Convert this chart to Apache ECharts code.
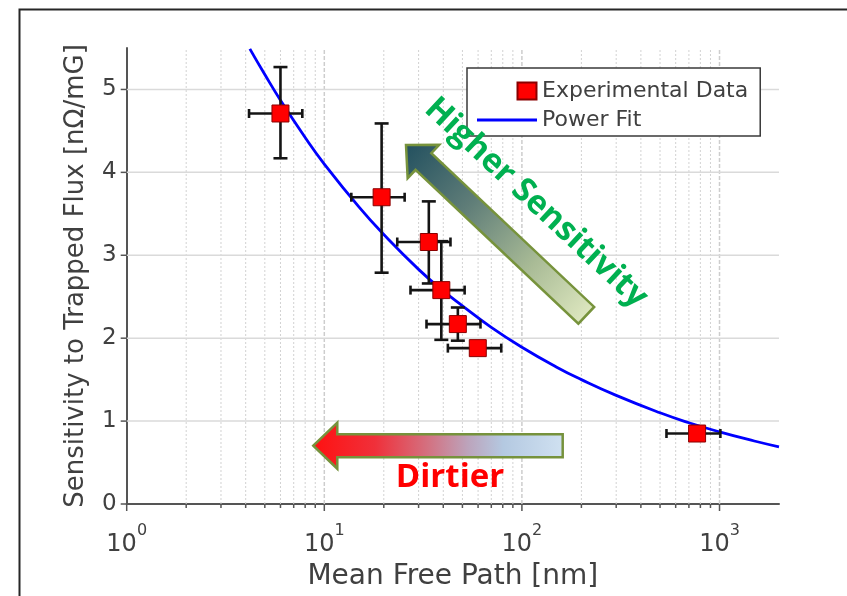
<!DOCTYPE html>
<html>
<head>
<meta charset="utf-8">
<script src="https://cdn.jsdelivr.net/npm/echarts@6/dist/echarts.min.js"></script>
<style>
  html, body { margin: 0; padding: 0; background: #ffffff; }
  #chart { width: 847px; height: 596px; }
</style>
</head>
<body>
<div id="chart"></div>
<script>
// Measured samples: mean free path (nm) vs. sensitivity to trapped flux (nOhm/mG)
const meanFreePath = [6.0, 19.5, 33.8, 39.1, 47.4, 59.8, 770];
const mfpErrLow    = [4.16, 13.7, 23.4, 27.3, 32.9, 42.2, 539];
const mfpErrHigh   = [7.74, 25.5, 43.5, 51.3, 61.7, 78.6, 1010];
const sensitivity  = [4.71, 3.70, 3.16, 2.58, 2.17, 1.88, 0.85];
const sensErrLow   = [4.17, 2.79, 2.66, 1.98, 1.97, 1.88, 0.85];
const sensErrHigh  = [5.27, 4.59, 3.65, 3.17, 2.37, 1.88, 0.85];

// Power-law fit, sampled along the curve
const fitPath        = [4.2, 5, 6, 8, 10, 15, 20, 30, 40, 50, 70, 100, 150, 200, 300, 500, 700, 1000, 1500, 2000];
const fitSensitivity = [5.49, 5.18, 4.87, 4.42, 4.10, 3.58, 3.25, 2.83, 2.57, 2.39, 2.13, 1.89, 1.65, 1.50, 1.31, 1.10, 0.98, 0.87, 0.76, 0.69];

// Axis ticks
const xMajorTicks = [1, 10, 100, 1000];
const xMinorTicks = [2, 3, 4, 5, 6, 7, 8, 9, 20, 30, 40, 50, 60, 70, 80, 90, 200, 300, 400, 500, 600, 700, 800, 900];
const yTicks = [0, 1, 2, 3, 4, 5];
const xRange = [1, 2000];
const yRange = [0, 5.5];

const FONT = '"DejaVu Sans", sans-serif';
const TEXT_COLOR = '#404040';
const AXIS_COLOR = '#555555';

const chart = echarts.init(document.getElementById('chart'), null, { renderer: 'canvas' });

function isDecade(v) {
  const e = Math.log10(v);
  return Math.abs(e - Math.round(e)) < 1e-6;
}

const xGridData = xMajorTicks.map(v => [v, 1]).concat(xMinorTicks.map(v => [v, 0]));
const yGridData = yTicks.map(v => [xRange[0], v]);
const errorData = meanFreePath.map((x, i) => [x, sensitivity[i], mfpErrLow[i], mfpErrHigh[i], sensErrLow[i], sensErrHigh[i]]);

function arrowPoints(len) {
  // arrow pointing to -x, tip at local origin
  const head = 24, headHalf = 23, shaftHalf = 11.5;
  return [[0, 0], [head, -headHalf], [head, -shaftHalf], [len, -shaftHalf],
          [len, shaftHalf], [head, shaftHalf], [head, headHalf]];
}

const option = {
  animation: false,
  backgroundColor: '#ffffff',
  grid: { left: 126.7, right: 68, top: 48, bottom: 89.3, containLabel: false },
  xAxis: {
    type: 'log',
    logBase: 10,
    min: xRange[0],
    max: xRange[1],
    name: 'Mean Free Path [nm]',
    nameLocation: 'middle',
    nameGap: 59,
    nameTextStyle: { fontFamily: FONT, fontSize: 28, color: TEXT_COLOR },
    axisLine: { show: true, onZero: false, lineStyle: { color: AXIS_COLOR, width: 2 } },
    axisTick: { show: false },
    splitLine: { show: false },
    minorTick: { show: false },
    axisLabel: {
      margin: 19,
      formatter: v => isDecade(v) ? '{b|10}{s|' + Math.round(Math.log10(v)) + '}' : '',
      rich: {
        b: { fontFamily: FONT, fontSize: 24, color: TEXT_COLOR, verticalAlign: 'bottom', lineHeight: 34 },
        s: { fontFamily: FONT, fontSize: 16, color: TEXT_COLOR, verticalAlign: 'top', lineHeight: 34 }
      }
    }
  },
  yAxis: {
    type: 'value',
    min: yRange[0],
    max: yRange[1],
    interval: 1,
    name: 'Sensitivity to Trapped Flux [n\u03A9/mG]',
    nameLocation: 'middle',
    nameRotate: 90,
    nameGap: 37,
    nameTextStyle: { fontFamily: FONT, fontSize: 26, color: TEXT_COLOR },
    axisLine: { show: true, onZero: false, lineStyle: { color: AXIS_COLOR, width: 2 } },
    axisTick: { show: false },
    splitLine: { show: false },
    axisLabel: {
      margin: 10,
      fontFamily: FONT, fontSize: 23, color: TEXT_COLOR,
      formatter: v => Number.isInteger(v) ? String(v) : ''
    }
  },
  legend: {
    orient: 'vertical',
    left: 467,
    top: 68,
    itemWidth: 60,
    itemHeight: 17,
    itemGap: 7,
    padding: [12, 12, 5, 9],
    borderColor: '#3a3a3a',
    borderWidth: 1.5,
    backgroundColor: '#ffffff',
    textStyle: { fontFamily: FONT, fontSize: 22, color: TEXT_COLOR, lineHeight: 17 },
    data: [
      { name: 'Experimental Data', icon: 'path://M0,0M60,17M40.5,0L59.5,0L59.5,17L40.5,17Z' },
      { name: 'Power Fit', icon: 'path://M0,0M60,17M0,7L60,7L60,10L0,10Z' }
    ]
  },
  series: [
    {
      name: 'xGrid',
      type: 'custom',
      z: 1,
      silent: true,
      data: xGridData,
      encode: { x: 0 },
      renderItem: (params, api) => {
        const v = api.value(0);
        const major = api.value(1) === 1;
        const p0 = api.coord([v, yRange[0]]);
        const p1 = api.coord([v, yRange[1]]);
        const children = [];
        if (v > xRange[0]) {
          children.push({
            type: 'line',
            shape: { x1: p0[0], y1: p0[1], x2: p1[0], y2: p1[1] },
            style: { stroke: major ? '#cdcdcd' : '#d2d2d2', lineWidth: major ? 1.5 : 1, lineDash: major ? [4, 2] : [2, 2] }
          });
        }
        children.push({
          type: 'line',
          shape: { x1: p0[0], y1: p0[1], x2: p0[0], y2: p0[1] + (major ? 7 : 4) },
          style: { stroke: AXIS_COLOR, lineWidth: 1.5 }
        });
        return { type: 'group', children };
      }
    },
    {
      name: 'yGrid',
      type: 'custom',
      z: 1,
      silent: true,
      data: yGridData,
      encode: { x: 0, y: 1 },
      renderItem: (params, api) => {
        const v = api.value(1);
        const p0 = api.coord([xRange[0], v]);
        const p1 = api.coord([xRange[1], v]);
        const children = [];
        if (v > yRange[0]) {
          children.push({
            type: 'line',
            shape: { x1: p0[0], y1: p0[1], x2: p1[0], y2: p1[1] },
            style: { stroke: '#dadada', lineWidth: 1.5 }
          });
        }
        children.push({
          type: 'line',
          shape: { x1: p0[0] - 6, y1: p0[1], x2: p0[0], y2: p0[1] },
          style: { stroke: AXIS_COLOR, lineWidth: 1.5 }
        });
        return { type: 'group', children };
      }
    },
    {
      name: 'Power Fit',
      type: 'line',
      z: 3,
      smooth: true,
      symbol: 'none',
      clip: true,
      lineStyle: { color: '#0000ff', width: 2.8 },
      itemStyle: { color: '#0000ff' },
      data: fitPath.map((x, i) => [x, fitSensitivity[i]])
    },
    {
      name: 'errorBars',
      type: 'custom',
      z: 4,
      silent: true,
      data: errorData,
      encode: { x: 0, y: 1 },
      renderItem: (params, api) => {
        const x = api.value(0), y = api.value(1);
        const xl = api.coord([api.value(2), y]);
        const xr = api.coord([api.value(3), y]);
        const yl = api.coord([x, api.value(4)]);
        const yh = api.coord([x, api.value(5)]);
        const st = { stroke: '#141414', lineWidth: 2.6 };
        const capX = 4.5, capY = 7;
        const children = [];
        if (api.value(3) > api.value(2)) {
          children.push(
            { type: 'line', shape: { x1: xl[0], y1: xl[1], x2: xr[0], y2: xr[1] }, style: st },
            { type: 'line', shape: { x1: xl[0], y1: xl[1] - capX, x2: xl[0], y2: xl[1] + capX }, style: st },
            { type: 'line', shape: { x1: xr[0], y1: xr[1] - capX, x2: xr[0], y2: xr[1] + capX }, style: st }
          );
        }
        if (api.value(5) > api.value(4)) {
          children.push(
            { type: 'line', shape: { x1: yl[0], y1: yl[1], x2: yh[0], y2: yh[1] }, style: st },
            { type: 'line', shape: { x1: yl[0] - capY, y1: yl[1], x2: yl[0] + capY, y2: yl[1] }, style: st },
            { type: 'line', shape: { x1: yh[0] - capY, y1: yh[1], x2: yh[0] + capY, y2: yh[1] }, style: st }
          );
        }
        return { type: 'group', children };
      }
    },
    {
      name: 'Experimental Data',
      type: 'scatter',
      z: 5,
      symbol: 'rect',
      symbolSize: [17, 17],
      itemStyle: { color: '#ff0000', borderColor: '#8a0000', borderWidth: 1, opacity: 1 },
      data: meanFreePath.map((x, i) => [x, sensitivity[i]])
    }
  ],
  graphic: [
    {
      type: 'rect',
      left: 17, top: 7, z: 100, silent: true,
      shape: { x: 0, y: 0, width: 900, height: 700 },
      style: { fill: 'none', stroke: '#262626', lineWidth: 2 }
    },
    {
      type: 'polygon',
      x: 313.3, y: 445.7, z: 50, silent: true,
      shape: { points: arrowPoints(249.4) },
      style: {
        fill: new echarts.graphic.LinearGradient(0, 0, 1, 0, [
          { offset: 0, color: '#ff1010' },
          { offset: 0.25, color: '#f0303a' },
          { offset: 0.47, color: '#d27484' },
          { offset: 0.62, color: '#bca4bc' },
          { offset: 0.76, color: '#b4c9e1' },
          { offset: 1, color: '#d0e1f1' }
        ]),
        stroke: '#76923c',
        lineWidth: 2.5
      }
    },
    {
      type: 'text',
      x: 450, y: 478, z: 51, silent: true,
      style: {
        text: 'Dirtier',
        fill: '#ff0000',
        fontFamily: '"Open Sans", sans-serif',
        fontWeight: 'bold',
        fontSize: 33,
        align: 'center',
        verticalAlign: 'middle'
      }
    },
    {
      type: 'polygon',
      x: 406, y: 145, rotation: -0.757, z: 50, silent: true,
      shape: { points: arrowPoints(248) },
      style: {
        fill: new echarts.graphic.LinearGradient(0, 0, 1, 0, [
          { offset: 0, color: '#22505f' },
          { offset: 0.35, color: '#5f7d78' },
          { offset: 0.7, color: '#a9bb96' },
          { offset: 1, color: '#dde7bf' }
        ]),
        stroke: '#77933c',
        lineWidth: 2.5
      }
    },
    {
      type: 'text',
      x: 536, y: 203, rotation: -0.75, z: 51, silent: true,
      style: {
        text: 'Higher Sensitivity',
        fill: '#00b050',
        fontFamily: '"Open Sans", sans-serif',
        fontWeight: 'bold',
        fontSize: 33,
        align: 'center',
        verticalAlign: 'middle'
      }
    }
  ]
};

chart.setOption(option);
</script>
</body>
</html>
